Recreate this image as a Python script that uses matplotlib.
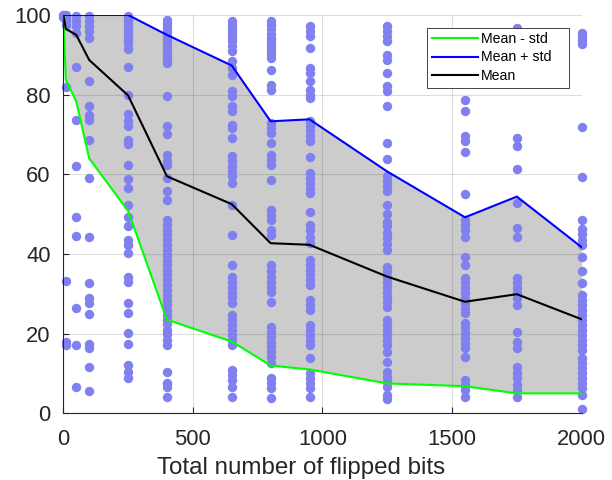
import matplotlib
matplotlib.use("Agg")
import matplotlib.pyplot as plt
from matplotlib.patches import Rectangle

plt.rcParams['font.family'] = ['Liberation Sans', 'DejaVu Sans']

# x values of the summary lines
bits = [0, 10, 50, 100, 250, 400, 650, 800, 950, 1250, 1550, 1750, 2000]
mean = [100, 96.5, 95.0, 88.7, 79.8, 59.5, 52.5, 42.7, 42.3, 34.3, 28.0, 29.9, 23.6]
mean_plus = [100, 100, 100, 100, 100, 95.0, 87.3, 73.3, 73.8, 60.7, 49.2, 54.4, 41.7]
mean_minus = [100, 83.7, 78.3, 64.0, 50.8, 23.5, 18.0, 12.0, 11.0, 7.5, 6.8, 5.0, 5.0]

# individual runs, one list per number of flipped bits
col0 = [100.0, 99.6]
col10 = [100.0, 99.2, 98.4, 97.6, 81.8, 33.3, 18.0, 17.1]
col50 = [99.7, 98.4, 97.2, 95.5, 86.9, 73.6, 62.0, 49.2, 44.4, 26.4, 17.1, 6.7]
col100 = [99.7, 98.4, 97.2, 95.9, 94.2, 83.5, 77.2, 74.8, 73.6, 68.7, 59.1, 44.3,
          32.6, 28.9, 27.6, 24.9, 17.3, 16.5, 11.5, 5.7]
col250 = [99.7, 98.7, 97.7, 96.7, 95.7, 94.7, 93.7, 92.7, 91.5, 86.9, 79.8, 75.1,
          73.3, 72.1, 68.7, 67.6, 62.4, 58.7, 56.6, 52.2, 49.4, 46.9, 43.5, 42.2,
          40.2, 34.3, 33.0, 27.6, 25.3, 20.1, 17.3, 12.1, 10.4, 8.8]
col400 = [98.8, 97.8, 96.8, 95.8, 94.8, 93.8, 92.8, 91.8, 90.8, 89.8, 88.8, 87.9,
          79.6, 72.1, 70.1, 64.9, 63.4, 62.4, 59.1, 55.7, 53.6, 48.5, 47.2, 46.0,
          44.8, 43.5, 42.3, 41.0, 39.8, 38.5, 37.2, 36.0, 34.8, 33.5, 32.2, 31.0,
          29.8, 28.5, 27.3, 26.0, 24.8, 23.5, 22.3, 21.0, 19.8, 18.5, 17.2, 10.3,
          7.5, 6.7, 4.2]
col650 = [98.4, 97.4, 96.4, 95.4, 94.4, 93.4, 92.2, 90.9, 88.4, 86.7, 85.0, 80.8,
          79.6, 77.1, 75.8, 72.5, 71.5, 69.2, 64.5, 63.3, 62.0, 60.8, 59.5, 57.8,
          52.2, 44.8, 37.2, 34.3, 33.0, 31.8, 30.5, 29.3, 27.6, 24.7, 23.4, 22.2,
          20.9, 19.7, 18.4, 17.2, 10.9, 9.6, 8.4, 6.7, 4.2]
col800 = [98.4, 97.4, 96.4, 95.3, 94.3, 93.3, 92.2, 91.2, 90.1, 89.2, 86.3, 82.5,
          81.2, 72.9, 71.6, 70.4, 67.9, 64.9, 63.7, 62.4, 58.5, 51.1, 49.8, 48.5,
          46.0, 44.8, 37.2, 35.6, 34.3, 33.0, 31.8, 30.5, 28.0, 21.7, 20.5, 19.2,
          18.0, 16.7, 15.5, 14.2, 12.6, 8.8, 7.5, 6.3, 3.9]
col950 = [97.2, 96.0, 94.7, 91.7, 86.7, 85.4, 83.3, 81.2, 80.0, 79.1, 73.3, 72.1,
          70.8, 69.6, 68.3, 64.3, 60.3, 59.1, 57.8, 56.6, 55.3, 50.5, 47.3, 46.0,
          44.3, 42.7, 38.5, 37.2, 36.0, 34.7, 33.5, 32.2, 28.4, 27.2, 25.9, 22.2,
          20.9, 19.7, 18.4, 17.2, 14.0, 10.0, 8.8, 7.5, 6.3, 4.2]
col1250 = [97.2, 96.0, 94.7, 93.4, 90.0, 88.8, 85.4, 82.1, 81.0, 77.2, 67.9, 63.9,
           59.5, 58.2, 57.0, 55.7, 52.3, 50.0, 48.1, 46.9, 45.2, 43.9, 42.6, 41.0,
           36.8, 35.6, 34.3, 33.0, 31.8, 30.5, 29.3, 28.0, 26.8, 23.4, 22.2, 20.9,
           19.7, 18.4, 17.2, 15.5, 13.0, 10.4, 9.2, 7.9, 6.7, 4.6, 3.6]
col1550 = [78.7, 76.0, 69.5, 68.3, 65.6, 55.1, 48.5, 47.3, 46.0, 44.3, 39.3, 37.2,
           33.9, 32.6, 31.4, 30.1, 28.9, 27.6, 26.4, 25.1, 22.6, 21.3, 20.1, 18.8,
           17.6, 16.3, 14.2, 8.4, 7.1, 5.9, 4.2]
col1750 = [96.7, 69.1, 67.0, 61.3, 52.8, 46.4, 44.3, 33.9, 32.6, 31.4, 30.1, 28.9,
           27.2, 20.5, 17.8, 16.5, 11.5, 10.0, 8.8, 7.1, 5.9, 4.2]
col2000 = [95.5, 94.5, 93.5, 92.6, 72.0, 59.4, 48.5, 46.2, 45.0, 43.6, 42.3, 39.3,
           35.6, 32.6, 29.7, 28.4, 27.2, 25.9, 24.7, 23.4, 22.2, 20.9, 19.7, 18.4,
           17.2, 15.9, 13.8, 12.5, 11.3, 10.0, 8.8, 7.5, 6.3, 4.6, 1.0]

runs = [(0, col0), (10, col10), (50, col50), (100, col100), (250, col250),
        (400, col400), (650, col650), (800, col800), (950, col950),
        (1250, col1250), (1550, col1550), (1750, col1750), (2000, col2000)]

fig = plt.figure(figsize=(6.12, 4.8), dpi=100)
ax = fig.add_axes([0.1034, 0.139, 0.847, 0.8298])

ax.fill_between(bits, mean_minus, mean_plus, color='#cccccc', linewidth=0, zorder=0.2)

for b, vals in runs:
    ax.scatter([b] * len(vals), vals, s=46, color='#8080f0', linewidths=0,
               zorder=1, clip_on=False)

ax.plot(bits, mean_minus, color='#00ff00', lw=1.5, label='Mean - std', zorder=2)
ax.plot(bits, mean_plus, color='#0000ff', lw=1.5, label='Mean + std', zorder=2)
ax.plot(bits, mean, color='black', lw=1.5, label='Mean', zorder=2)

ax.set_xlim(0, 2000)
ax.set_ylim(0, 100)
ax.set_xticks([0, 500, 1000, 1500, 2000])
ax.set_yticks([0, 20, 40, 60, 80, 100])
ax.set_axisbelow(True)
ax.grid(True, color='#262626', alpha=0.15, lw=0.8)

for s in ['top', 'right']:
    ax.spines[s].set_visible(False)
for s in ['left', 'bottom']:
    ax.spines[s].set_color('#262626')
    ax.spines[s].set_linewidth(0.8)
ax.tick_params(direction='in', length=4, width=0.8, color='#262626',
               labelcolor='#262626', labelsize=15.8)
ax.tick_params(axis='x', pad=11)
ax.tick_params(axis='y', pad=9)

ax.set_xlabel('Total number of flipped bits', fontsize=17.4, color='#262626')
ax.xaxis.set_label_coords(0.4585, -0.11)

# legend box (MATLAB style, extra room on the right)
ax.add_patch(Rectangle((0.701, 0.816), 0.2745, 0.1506, transform=ax.transAxes,
                       facecolor='white', edgecolor='#262626', lw=0.6,
                       zorder=4.9, clip_on=False))
leg = ax.legend(loc='upper left', bbox_to_anchor=(0.701, 0.9716), fontsize=10.2,
                frameon=False, handlelength=3.2, handletextpad=0.25,
                labelspacing=0.32, borderpad=0.4, borderaxespad=0)
leg.set_zorder(5)
for h in leg.get_lines():
    h.set_linewidth(1.5)

fig.savefig('out.png', dpi=100)
